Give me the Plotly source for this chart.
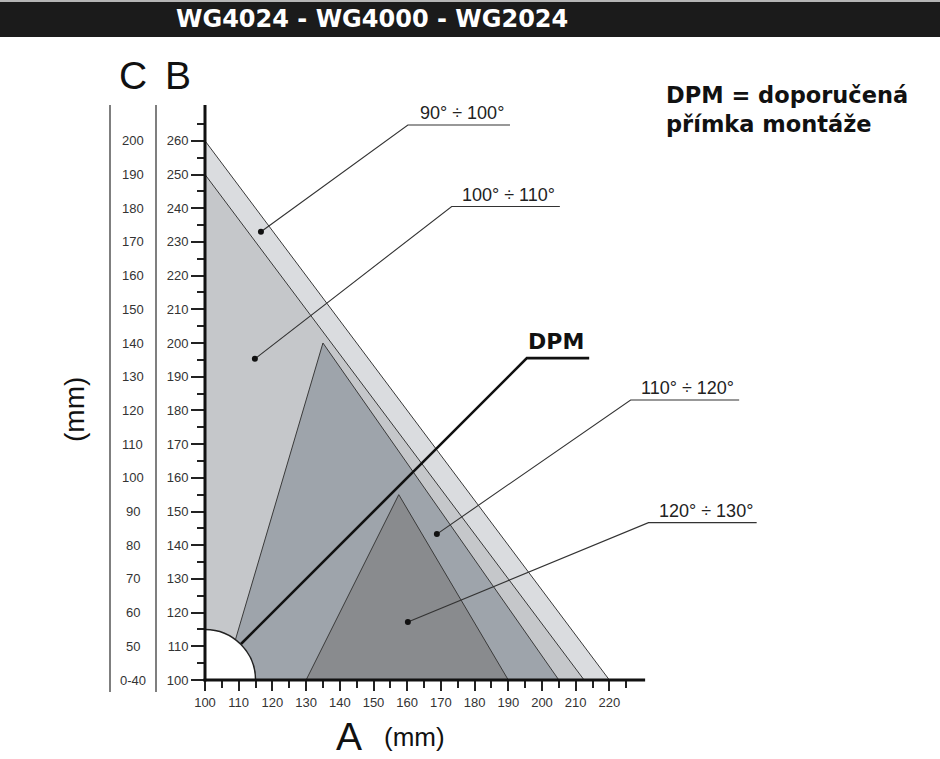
import plotly.graph_objects as go

# ---------------- data ----------------
title_text = "WG4024 - WG4000 - WG2024"

# angle zones (polygons in A/B mm coordinates)
zone_names = ["90° ÷ 100°", "100° ÷ 110°", "110° ÷ 120°", "120° ÷ 130°"]
zone_x = [[100, 100, 220], [100, 100, 212.5], [105.5, 135, 205], [130, 157.5, 190]]
zone_y = [[100, 260, 100], [100, 250, 100], [100, 200, 100], [100, 155, 100]]
zone_colors = ["#dadcdf", "#c5c7ca", "#9ea4ab", "#898b8e"]

# leader lines: dot -> elbow -> end, label centre
lead_dot_x = [116.6, 114.8, 168.8, 160.2]
lead_dot_y = [233.0, 195.3, 143.3, 117.2]
lead_elbow_x = [160.2, 173.2, 226.3, 231.6]
lead_elbow_y = [264.7, 240.5, 183.1, 146.7]
lead_end_x = [190.5, 205.3, 258.5, 263.7]
label_center_x = [176.3, 190.2, 243.3, 248.6]

# recommended mounting line (DPM)
dpm_x = [110.6, 195.5, 214.0]
dpm_y = [110.6, 195.5, 195.5]

# axis ticks
a_major = list(range(100, 221, 10))
a_minor = list(range(105, 226, 10))
b_major = list(range(100, 261, 10))
b_minor = list(range(105, 266, 10))
c_labels = ["0-40"] + [str(v) for v in range(50, 201, 10)]

# ---------------- layout geometry ----------------
W, H = 940, 759
L, R, T, B = 205, 160, 100, 79
PW, PH = W - L - R, H - T - B
S = 3.37  # px per mm
x_rng = [100, 100 + PW / S]
y_rng = [100, 100 + PH / S]


def px_x(p):
    return (p - L) / PW


def px_y(p):
    return (H - B - p) / PH


fig = go.Figure()

for xs, ys, col, nm in zip(zone_x, zone_y, zone_colors, zone_names):
    fig.add_trace(go.Scatter(x=xs, y=ys, fill="toself", fillcolor=col, mode="lines",
                             line=dict(color="#3a3a3a", width=1), name=nm,
                             showlegend=False, hoverinfo="skip"))

# DPM line
fig.add_trace(go.Scatter(x=dpm_x, y=dpm_y, mode="lines", line=dict(color="#111", width=2.6),
                         showlegend=False, hoverinfo="skip"))

annotations = []

# leader lines
for i in range(len(zone_names)):
    fig.add_trace(go.Scatter(
        x=[lead_dot_x[i], lead_elbow_x[i], lead_end_x[i]],
        y=[lead_dot_y[i], lead_elbow_y[i], lead_elbow_y[i]],
        mode="lines", line=dict(color="#333", width=1.1),
        showlegend=False, hoverinfo="skip"))
    fig.add_trace(go.Scatter(x=[lead_dot_x[i]], y=[lead_dot_y[i]], mode="markers",
                             marker=dict(color="#111", size=6), showlegend=False,
                             hoverinfo="skip"))
    annotations.append(dict(x=label_center_x[i], y=lead_elbow_y[i], xref="x", yref="y",
                            text=zone_names[i], showarrow=False, xanchor="center",
                            yanchor="bottom", yshift=0,
                            font=dict(family="Liberation Sans, Arial", size=18, color="#222")))

shapes = []
# quarter circle (clipped by plot area)
shapes.append(dict(type="circle", xref="x", yref="y", x0=85, y0=85, x1=115, y1=115,
                   fillcolor="white", line=dict(color="#222", width=1.5), layer="above"))
# axis lines
shapes.append(dict(type="line", xref="paper", yref="paper",
                   x0=px_x(203.5), x1=px_x(205 + (230.6 - 100) * S), y0=0, y1=0,
                   line=dict(color="#111", width=3)))
shapes.append(dict(type="line", xref="paper", yref="paper",
                   x0=0, x1=0, y0=px_y(681.5), y1=px_y(680 - (270.6 - 100) * S),
                   line=dict(color="#111", width=3)))
# C scale separators
for xp in (110, 156):
    shapes.append(dict(type="line", xref="paper", yref="paper", x0=px_x(xp), x1=px_x(xp),
                       y0=px_y(692), y1=px_y(105), line=dict(color="#555", width=1.5)))
# title bar
shapes.append(dict(type="rect", xref="paper", yref="paper", x0=px_x(0), x1=px_x(W),
                   y0=px_y(2), y1=px_y(0), fillcolor="#b5b5b5", line=dict(width=0)))
shapes.append(dict(type="rect", xref="paper", yref="paper", x0=px_x(0), x1=px_x(W),
                   y0=px_y(37), y1=px_y(2), fillcolor="#1b1b1b", line=dict(width=0)))

# C scale labels
for bv, lab in zip(b_major, c_labels):
    annotations.append(dict(x=px_x(132.5), y=bv, xref="paper", yref="y", text=lab,
                            showarrow=False, xanchor="center", yanchor="middle",
                            font=dict(family="Liberation Sans, Arial", size=13, color="#333")))


def ptext(xp, yp, text, size, family="Liberation Sans, Arial", **kw):
    d = dict(x=px_x(xp), y=px_y(yp), xref="paper", yref="paper", text=text,
             showarrow=False, xanchor="center", yanchor="middle",
             font=dict(family=family, size=size, color=kw.pop("color", "#111"),
                       weight=kw.pop("weight", "normal")))
    d.update(kw)
    annotations.append(d)


ptext(133, 76, "C", 39)
ptext(178, 76, "B", 39)
ptext(74, 410, "(mm)", 28, textangle=-90)
ptext(349, 736, "A", 39)
ptext(414, 737, "(mm)", 26)
ptext(372, 19, title_text, 24, family="DejaVu Sans", color="white", weight="bold")
ptext(664, 80, "DPM = doporučená<br>přímka montáže", 22.5, family="DejaVu Sans",
      weight="bold", xanchor="left", yanchor="top", align="left")

# DPM label on the line
annotations.append(dict(x=(dpm_x[1] + dpm_x[2]) / 2 - 0.6, y=dpm_y[1], xref="x", yref="y",
                        text="DPM", showarrow=False, xanchor="center", yanchor="bottom", yshift=2,
                        font=dict(family="DejaVu Sans", size=22, color="#111", weight="bold")))

fig.update_layout(
    width=W, height=H, margin=dict(l=L, r=R, t=T, b=B, pad=0),
    paper_bgcolor="white", plot_bgcolor="white",
    shapes=shapes, annotations=annotations, showlegend=False, hovermode=False,
    xaxis=dict(range=x_rng, showgrid=False, zeroline=False, showline=False,
               tickmode="array", tickvals=a_major, ticktext=[str(v) for v in a_major],
               ticks="outside", ticklen=10, tickwidth=1.5, tickcolor="#222",
               tickfont=dict(family="Liberation Sans, Arial", size=13, color="#333"),
               minor=dict(tickvals=a_minor, ticks="outside", ticklen=7, tickwidth=1.5,
                          tickcolor="#222", showgrid=False),
               fixedrange=True),
    yaxis=dict(range=y_rng, showgrid=False, zeroline=False, showline=False,
               tickmode="array", tickvals=b_major, ticktext=[str(v) for v in b_major],
               ticks="outside", ticklen=13, tickwidth=1.5, tickcolor="#222",
               tickfont=dict(family="Liberation Sans, Arial", size=13, color="#333"),
               minor=dict(tickvals=b_minor, ticks="outside", ticklen=7, tickwidth=1.5,
                          tickcolor="#222", showgrid=False),
               fixedrange=True),
)

fig.write_html("out.html", config=dict(displayModeBar=False))
